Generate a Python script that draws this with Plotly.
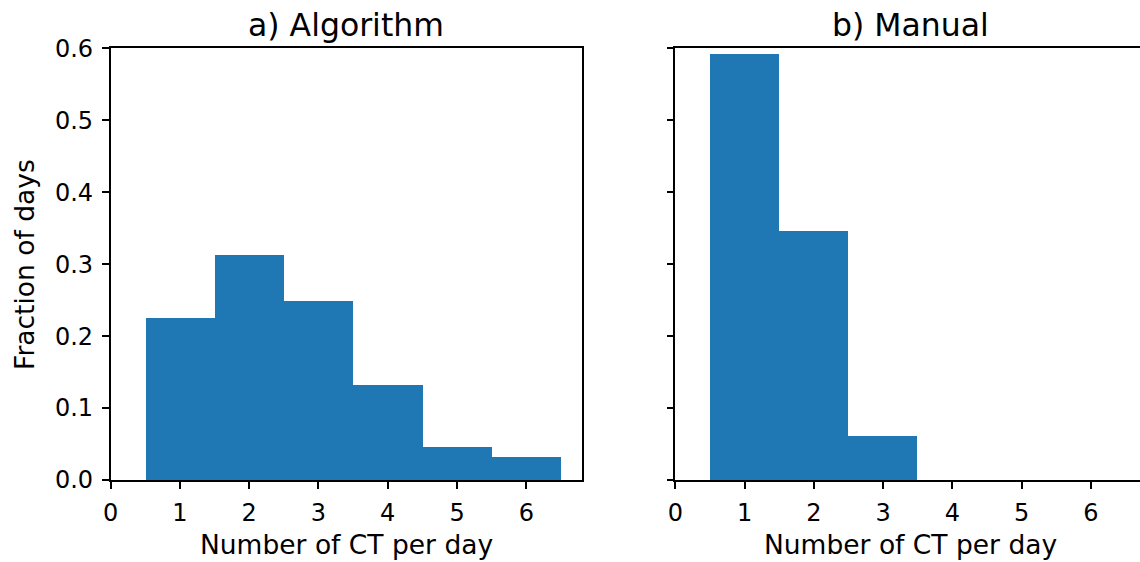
import plotly.graph_objects as go

# Data
ct_per_day = [1, 2, 3, 4, 5, 6]
algorithm_fraction = [0.225, 0.312, 0.248, 0.132, 0.045, 0.031]
manual_ct = [1, 2, 3]
manual_fraction = [0.591, 0.346, 0.061]
x_ticks = [0, 1, 2, 3, 4, 5, 6]
y_ticks = [0.0, 0.1, 0.2, 0.3, 0.4, 0.5, 0.6]
y_tick_labels = ["0.0", "0.1", "0.2", "0.3", "0.4", "0.5", "0.6"]

W, H = 1140, 562
BLUE = "#1f77b4"
FONT = "DejaVu Sans"

fig = go.Figure()
fig.add_trace(go.Bar(x=ct_per_day, y=algorithm_fraction, width=1.0,
                     marker=dict(color=BLUE, line=dict(width=0)),
                     xaxis="x", yaxis="y", showlegend=False))
fig.add_trace(go.Bar(x=manual_ct, y=manual_fraction, width=1.0,
                     marker=dict(color=BLUE, line=dict(width=0)),
                     xaxis="x2", yaxis="y2", showlegend=False))

ax_common = dict(showline=True, linecolor="black", linewidth=1.6,
                 ticks="outside", ticklen=7, tickwidth=1.6, tickcolor="black",
                 showgrid=False, zeroline=False, automargin=False,
                 tickfont=dict(family=FONT, size=24, color="black"))

left_dom = [110.7 / W, 581.7 / W]
right_dom = [675.3 / W, 1.0]
y_dom = [(H - 480) / H, (H - 48.3) / H]
px_per_unit = (581.7 - 110.7) / 6.8
right_max = (W - 675.3) / px_per_unit

fig.update_layout(
    width=W, height=H,
    margin=dict(l=0, r=0, t=0, b=0),
    paper_bgcolor="white", plot_bgcolor="white",
    bargap=0,
    xaxis=dict(domain=left_dom, range=[0, 6.8], tickvals=x_ticks, mirror=True,
               anchor="y", ticklabelstandoff=3, **ax_common),
    yaxis=dict(domain=y_dom, range=[0, 0.6], tickvals=y_ticks, ticktext=y_tick_labels,
               mirror=True, anchor="x", ticklabelstandoff=4, **ax_common),
    xaxis2=dict(domain=right_dom, range=[0, right_max], tickvals=x_ticks, mirror=True,
                anchor="y2", ticklabelstandoff=3, **ax_common),
    yaxis2=dict(domain=y_dom, range=[0, 0.6], tickvals=y_ticks, showticklabels=False,
                mirror=False, anchor="x2", **ax_common),
)

cx_left = (110.7 + 581.7) / 2 / W
cx_right = (675.3 + 1145.6) / 2 / W
ann = []
ann.append(dict(text="a) Algorithm", x=cx_left, y=1 - 24.7 / H, xref="paper", yref="paper",
                showarrow=False, xanchor="center", yanchor="middle",
                font=dict(family=FONT, size=31.5, color="black")))
ann.append(dict(text="b) Manual", x=cx_right, y=1 - 24.7 / H, xref="paper", yref="paper",
                showarrow=False, xanchor="center", yanchor="middle",
                font=dict(family=FONT, size=31.5, color="black")))
for cx in (cx_left, cx_right):
    ann.append(dict(text="Number of CT per day", x=cx, y=1 - 544 / H, xref="paper", yref="paper",
                    showarrow=False, xanchor="center", yanchor="middle",
                    font=dict(family=FONT, size=26.5, color="black")))
ann.append(dict(text="Fraction of days", x=23.9 / W, y=1 - 264 / H, xref="paper", yref="paper",
                showarrow=False, xanchor="center", yanchor="middle", textangle=-90,
                font=dict(family=FONT, size=26.5, color="black")))
fig.update_layout(annotations=ann)

fig.write_html("out.html")
